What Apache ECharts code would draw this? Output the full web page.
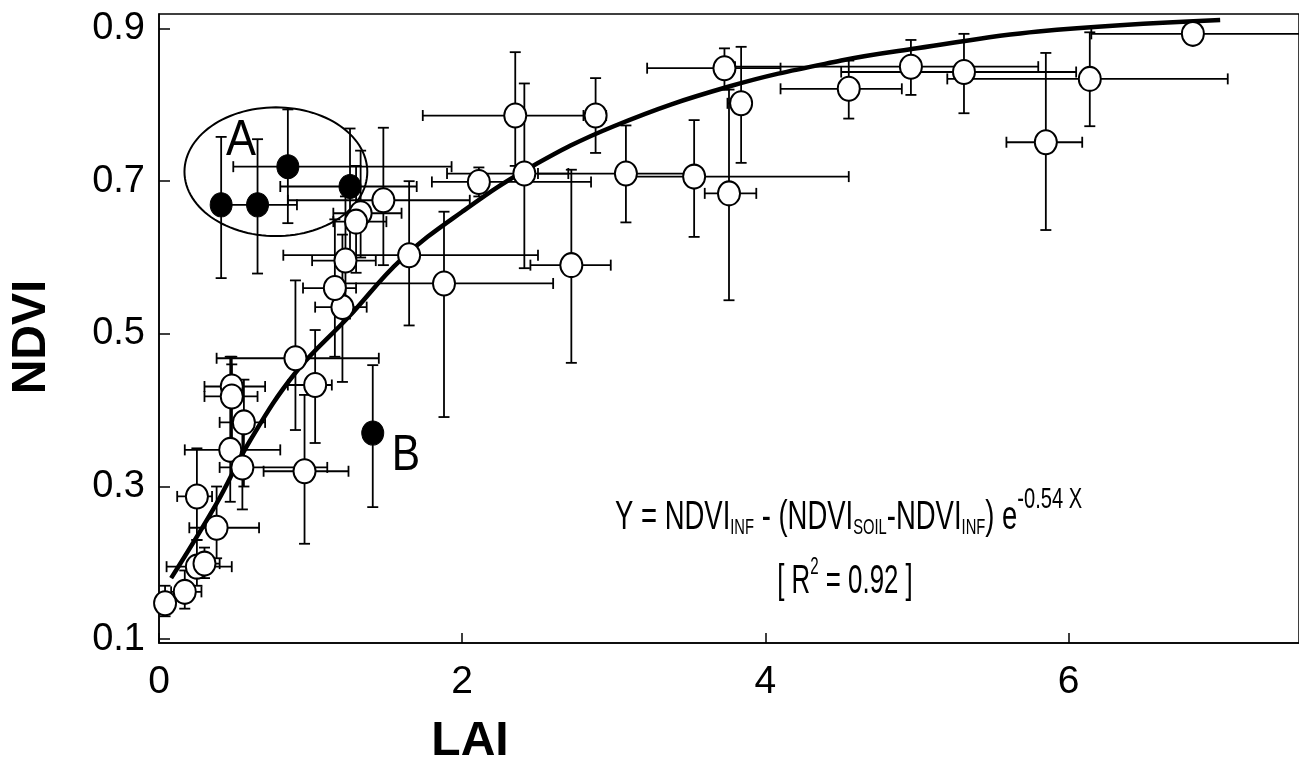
<!DOCTYPE html>
<html>
<head>
<meta charset="utf-8">
<script src="https://cdn.jsdelivr.net/npm/echarts@6/dist/echarts.min.js"></script>
<style>
  html, body { margin: 0; padding: 0; background: #fff; }
  #chart { width: 1299px; height: 765px; }
</style>
</head>
<body>
<div id="chart"></div>
<script>
// tick labels
const xTicks = [0, 2, 4, 6];
const yTicks = [0.1, 0.3, 0.5, 0.7, 0.9];

// open circles: LAI, NDVI and their error ranges
const openLai    = [0.04, 0.17, 0.25, 0.30, 0.38, 0.25, 0.47, 0.55, 0.48, 0.48, 0.56, 0.96, 0.90, 1.03, 1.21, 1.16, 1.23, 1.88, 2.72, 1.65, 1.48, 1.33, 1.30, 2.11, 2.41, 2.35, 2.88, 3.08, 3.53, 3.76, 3.84, 3.73, 4.55, 4.96, 5.31, 5.85, 6.14, 6.82];
const openNdvi   = [0.147, 0.162, 0.195, 0.199, 0.246, 0.287, 0.348, 0.325, 0.431, 0.418, 0.384, 0.320, 0.468, 0.433, 0.535, 0.560, 0.596, 0.566, 0.590, 0.603, 0.675, 0.658, 0.647, 0.699, 0.710, 0.786, 0.786, 0.710, 0.706, 0.684, 0.802, 0.848, 0.821, 0.850, 0.843, 0.751, 0.834, 0.893];
const openLaiLo  = [0.00, 0.08, 0.05, 0.20, 0.20, 0.12, 0.17, 0.40, 0.30, 0.30, 0.40, 0.69, 0.38, 0.85, 1.03, 0.95, 1.01, 1.20, 2.45, 0.82, 0.85, 1.15, 1.15, 1.80, 1.90, 1.74, 2.80, 2.50, 3.10, 3.60, 3.75, 3.22, 4.10, 3.80, 4.50, 5.59, 5.20, 6.15];
const openLaiHi  = [0.10, 0.28, 0.48, 0.40, 0.66, 0.35, 0.80, 1.11, 0.70, 0.65, 0.70, 1.25, 1.45, 1.14, 1.37, 1.30, 1.43, 2.60, 2.98, 2.50, 2.05, 1.60, 1.50, 2.85, 2.70, 2.88, 2.95, 3.50, 4.55, 3.94, 3.90, 4.10, 4.90, 5.80, 6.05, 6.09, 7.05, 7.60];
const openNdviLo = [0.130, 0.140, 0.170, 0.180, 0.206, 0.230, 0.280, 0.270, 0.360, 0.350, 0.300, 0.225, 0.374, 0.357, 0.437, 0.470, 0.520, 0.391, 0.462, 0.511, 0.590, 0.600, 0.580, 0.680, 0.586, 0.720, 0.737, 0.646, 0.627, 0.544, 0.724, 0.820, 0.782, 0.813, 0.789, 0.636, 0.772, 0.893];
const openNdviHi = [0.170, 0.190, 0.230, 0.220, 0.300, 0.350, 0.470, 0.380, 0.470, 0.460, 0.440, 0.420, 0.570, 0.505, 0.630, 0.650, 0.680, 0.660, 0.715, 0.700, 0.770, 0.740, 0.720, 0.718, 0.828, 0.869, 0.835, 0.773, 0.780, 0.820, 0.876, 0.874, 0.858, 0.885, 0.893, 0.868, 0.895, 0.893];

// filled circles (group A and point B)
const solidLai    = [0.41, 0.65, 0.85, 1.26, 1.41];
const solidNdvi   = [0.669, 0.669, 0.719, 0.693, 0.370];
const solidLaiLo  = [0.41, 0.41, 0.49, 0.80, 1.41];
const solidLaiHi  = [0.41, 0.91, 1.93, 1.70, 1.41];
const solidNdviLo = [0.573, 0.579, 0.645, 0.600, 0.273];
const solidNdviHi = [0.758, 0.755, 0.794, 0.769, 0.459];

// fitted curve
const fitLai  = [0.08, 0.38, 0.60, 0.90, 1.25, 1.60, 2.00, 2.44, 3.00, 3.76, 4.50, 5.00, 5.80, 7.00];
const fitNdvi = [0.180, 0.278, 0.360, 0.449, 0.522, 0.598, 0.660, 0.717, 0.772, 0.824, 0.858, 0.874, 0.896, 0.911];

// ellipse around group A: centre and radii in data units
const ellipseA = [0.771, 0.7124, 0.603, 0.0843];

const font = '"Liberation Sans", Arial, sans-serif';

function rows(x, y, xl, xh, yl, yh) {
  return x.map((v, i) => [v, y[i], xl[i], xh[i], yl[i], yh[i]]);
}
const openRows = rows(openLai, openNdvi, openLaiLo, openLaiHi, openNdviLo, openNdviHi);
const solidRows = rows(solidLai, solidNdvi, solidLaiLo, solidLaiHi, solidNdviLo, solidNdviHi);

function errorBars(params, api) {
  const c = api.coord([api.value(0), api.value(1)]);
  const l = api.coord([api.value(2), api.value(1)]);
  const r = api.coord([api.value(3), api.value(1)]);
  const lo = api.coord([api.value(0), api.value(4)]);
  const hi = api.coord([api.value(0), api.value(5)]);
  const cap = 5.5;
  const st = { stroke: '#000', lineWidth: 1.8 };
  const kids = [];
  if (Math.abs(r[0] - l[0]) > 1) {
    kids.push({ type: 'line', shape: { x1: l[0], y1: c[1], x2: r[0], y2: c[1] }, style: st });
    kids.push({ type: 'line', shape: { x1: l[0], y1: c[1] - cap, x2: l[0], y2: c[1] + cap }, style: st });
    kids.push({ type: 'line', shape: { x1: r[0], y1: c[1] - cap, x2: r[0], y2: c[1] + cap }, style: st });
  }
  if (Math.abs(lo[1] - hi[1]) > 1) {
    kids.push({ type: 'line', shape: { x1: c[0], y1: lo[1], x2: c[0], y2: hi[1] }, style: st });
    kids.push({ type: 'line', shape: { x1: c[0] - cap, y1: lo[1], x2: c[0] + cap, y2: lo[1] }, style: st });
    kids.push({ type: 'line', shape: { x1: c[0] - cap, y1: hi[1], x2: c[0] + cap, y2: hi[1] }, style: st });
  }
  return { type: 'group', children: kids };
}

const chart = echarts.init(document.getElementById('chart'));

const option = {
  backgroundColor: '#fff',
  animation: false,
  grid: {
    left: 159, top: 14, right: -2, bottom: 122,
    show: true, borderColor: '#000', borderWidth: 1.5
  },
  xAxis: {
    type: 'value', min: 0, max: 7.52,
    axisLine: { show: true, lineStyle: { color: '#000', width: 1.5 } },
    axisTick: { inside: true, length: 10, customValues: xTicks, lineStyle: { color: '#000', width: 1.5 } },
    axisLabel: { customValues: xTicks, color: '#000', fontFamily: font, fontSize: 39, margin: 20 },
    splitLine: { show: false }
  },
  yAxis: {
    type: 'value', min: 0.095, max: 0.919,
    axisLine: { show: true, lineStyle: { color: '#000', width: 1.5 } },
    axisTick: { inside: true, length: 11, customValues: yTicks, lineStyle: { color: '#000', width: 1.5 } },
    axisLabel: { customValues: yTicks, color: '#000', fontFamily: font, fontSize: 38, margin: 14,
      formatter: v => v.toFixed(1) },
    splitLine: { show: false }
  },
  graphic: [
    { type: 'text', x: 32, y: 337, rotation: Math.PI / 2,
      style: { text: 'NDVI', font: 'bold 48px ' + font, fill: '#000', align: 'center', verticalAlign: 'middle' } },
    { type: 'text', x: 470, y: 742,
      style: { text: 'LAI', font: 'bold 48px ' + font, fill: '#000', align: 'center', verticalAlign: 'middle' } },
    { type: 'text', x: 241, y: 141, scaleX: 0.9,
      style: { text: 'A', font: '50px ' + font, fill: '#000', align: 'center', verticalAlign: 'middle' } },
    { type: 'text', x: 406, y: 456, scaleX: 0.85,
      style: { text: 'B', font: '50px ' + font, fill: '#000', align: 'center', verticalAlign: 'middle' } },
    { type: 'text', x: 615, y: 518, scaleX: 0.67,
      style: {
        text: 'Y = NDVI{sub|INF} - (NDVI{sub|SOIL}-NDVI{sub|INF}) e{sup|-0.54 X}',
        font: '41px ' + font, fill: '#000', align: 'left', verticalAlign: 'middle',
        rich: {
          sub: { fontSize: 22, fontFamily: font, fill: '#000', padding: [20, 0, 0, 0] },
          sup: { fontSize: 30, fontFamily: font, fill: '#000', padding: [0, 0, 36, 0] }
        }
      } },
    { type: 'text', x: 845, y: 582, scaleX: 0.63,
      style: {
        text: '[ R{sup|2} = 0.92 ]',
        font: '41px ' + font, fill: '#000', align: 'center', verticalAlign: 'middle',
        rich: { sup: { fontSize: 24, fontFamily: font, fill: '#000', padding: [0, 0, 30, 0] } }
      } }
  ],
  series: [
    {
      type: 'custom', name: 'ellipse', silent: true, z: 1,
      data: [ellipseA],
      renderItem: function (params, api) {
        const c = api.coord([api.value(0), api.value(1)]);
        const ex = api.coord([api.value(0) + api.value(2), api.value(1)]);
        const ey = api.coord([api.value(0), api.value(1) + api.value(3)]);
        const rx = Math.abs(ex[0] - c[0]), ry = Math.abs(c[1] - ey[1]);
        const pts = [];
        for (let k = 0; k < 120; k++) {
          const t = k / 120 * Math.PI * 2;
          pts.push([c[0] + rx * Math.cos(t), c[1] + ry * Math.sin(t)]);
        }
        return { type: 'polygon', shape: { points: pts }, style: { fill: 'none', stroke: '#000', lineWidth: 2 } };
      }
    },
    {
      type: 'custom', name: 'err open', silent: true, clip: true, z: 2,
      data: openRows, renderItem: errorBars
    },
    {
      type: 'custom', name: 'err solid', silent: true, clip: true, z: 2,
      data: solidRows, renderItem: errorBars
    },
    {
      type: 'line', name: 'fit', data: fitLai.map((v, i) => [v, fitNdvi[i]]),
      smooth: 0.4, symbol: 'none', z: 3,
      lineStyle: { color: '#000', width: 4.5 }
    },
    {
      type: 'scatter', name: 'open', data: openLai.map((v, i) => [v, openNdvi[i]]),
      symbol: 'circle', symbolSize: [22, 24], z: 4,
      itemStyle: { color: '#fff', borderColor: '#000', borderWidth: 2, opacity: 1 }
    },
    {
      type: 'scatter', name: 'solid', data: solidLai.map((v, i) => [v, solidNdvi[i]]),
      symbol: 'circle', symbolSize: [22, 24], z: 4,
      itemStyle: { color: '#000', borderColor: '#000', borderWidth: 1, opacity: 1 }
    }
  ]
};

chart.setOption(option);
</script>
</body>
</html>
